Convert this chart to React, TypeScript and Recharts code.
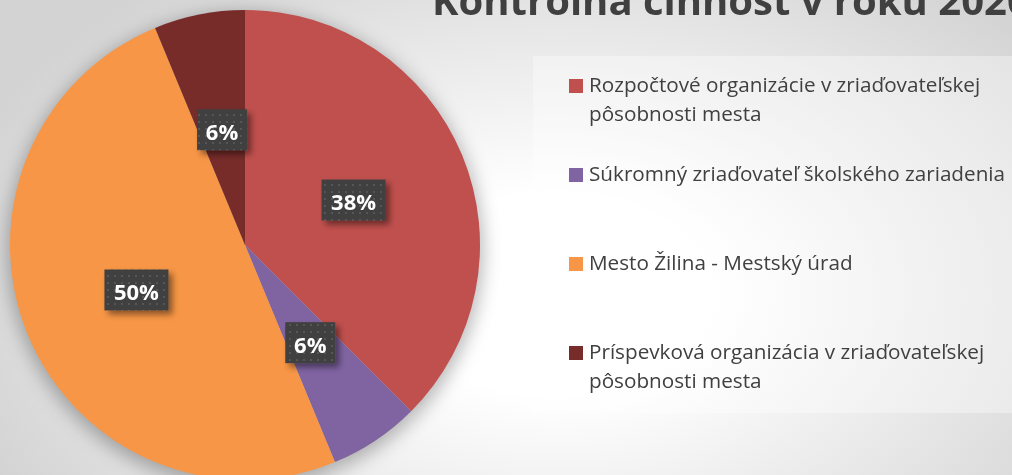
import React from 'react';
import { PieChart, Pie, Cell, Legend } from 'recharts';

const title = 'Kontrolná činnosť v roku 2020';

const categories = [
  'Rozpočtové organizácie v zriaďovateľskej pôsobnosti mesta',
  'Súkromný zriaďovateľ školského zariadenia',
  'Mesto Žilina - Mestský úrad',
  'Príspevková organizácia v zriaďovateľskej pôsobnosti mesta',
];
const counts = [6, 1, 8, 1];
const COLORS = ['#C0504D', '#8064A2', '#F79646', '#772C2A'];

const data = categories.map((name, i) => ({ name, value: counts[i] }));

const FONT = '"Open Sans", "DejaVu Sans", sans-serif';
const RAD = Math.PI / 180;

const renderLabel = (props: any) => {
  const { cx, cy, midAngle, outerRadius, percent } = props;
  const r = outerRadius * 0.5;
  const x = cx + r * Math.cos(-midAngle * RAD);
  const y = cy + r * Math.sin(-midAngle * RAD);
  const text = `${Math.round(percent * 100)}%`;
  const w = text.length > 2 ? 64 : 50;
  const h = 41;
  return (
    <g>
      <rect x={x - w / 2} y={y - h / 2} width={w} height={h} fill="url(#dots)" filter="url(#boxShadow)" />
      <text x={x} y={y + 1} textAnchor="middle" dominantBaseline="central" fill="#ffffff"
        fontWeight="bold" fontSize={22} fontFamily={FONT}>
        {text}
      </text>
    </g>
  );
};

const renderLegend = () => (
  <div style={{ width: 479, height: 357, background: 'rgba(255,255,255,0.35)', position: 'relative', fontFamily: FONT }}>
    {categories.map((name, i) => (
      <div key={name} style={{ position: 'absolute', left: 36, top: 14 + i * 89, display: 'flex', alignItems: 'flex-start' }}>
        <span style={{ width: 14, height: 14, background: COLORS[i], marginTop: 9, flex: 'none' }} />
        <span style={{ marginLeft: 6, width: 440, lineHeight: '29px', fontSize: 20.7, color: '#404040' }}>{name}</span>
      </div>
    ))}
  </div>
);

export default function App() {
  return (
    <div style={{
      position: 'fixed', left: 0, top: 0, width: 1012, height: 475, overflow: 'hidden',
      background: 'radial-gradient(ellipse 62% 85% at 55% 62%, #ffffff 0%, #ffffff 25%, #d3d3d3 100%)',
    }}>
      <svg width={0} height={0} style={{ position: 'absolute' }}>
        <defs>
          <pattern id="dots" width={7} height={7} patternUnits="userSpaceOnUse">
            <rect width={7} height={7} fill="#404040" />
            <rect x={2} y={2} width={2} height={2} fill="#575757" />
          </pattern>
          <filter id="boxShadow" x="-30%" y="-30%" width="170%" height="170%">
            <feDropShadow dx={4} dy={4} stdDeviation={3} floodColor="#000" floodOpacity={0.45} />
          </filter>
          <filter id="pieShadow" x="-20%" y="-20%" width="140%" height="140%">
            <feGaussianBlur stdDeviation={9} />
          </filter>
        </defs>
      </svg>
      <div style={{
        position: 'absolute', left: 432, top: -25, whiteSpace: 'nowrap', fontFamily: FONT,
        fontWeight: 'bold', fontSize: 40, color: '#404040', lineHeight: '50px',
      }}>
        {title}
      </div>
      <PieChart width={1012} height={475} margin={{ top: 0, right: 0, bottom: 0, left: 0 }}
        style={{ position: 'absolute', left: 0, top: 0 }}>
        <Pie
          data={data}
          dataKey="value"
          cx={245}
          cy={250}
          outerRadius={238}
          startAngle={90}
          endAngle={-270}
          stroke="none"
          isAnimationActive={false}
          legendType="none"
        >
          {data.map((_, i) => (
            <Cell key={`s-${i}`} fill="#000000" fillOpacity={0.28} filter="url(#pieShadow)" />
          ))}
        </Pie>
        <Pie
          data={data}
          dataKey="value"
          cx={245}
          cy={245}
          outerRadius={235}
          startAngle={90}
          endAngle={-270}
          stroke="none"
          labelLine={false}
          label={renderLabel}
          isAnimationActive={false}
        >
          {data.map((_, i) => (
            <Cell key={`c-${i}`} fill={COLORS[i]} />
          ))}
        </Pie>
        <Legend
          layout="vertical"
          align="right"
          verticalAlign="top"
          content={renderLegend}
          wrapperStyle={{ left: 533, top: 56, width: 479, height: 357 }}
        />
      </PieChart>
    </div>
  );
}
